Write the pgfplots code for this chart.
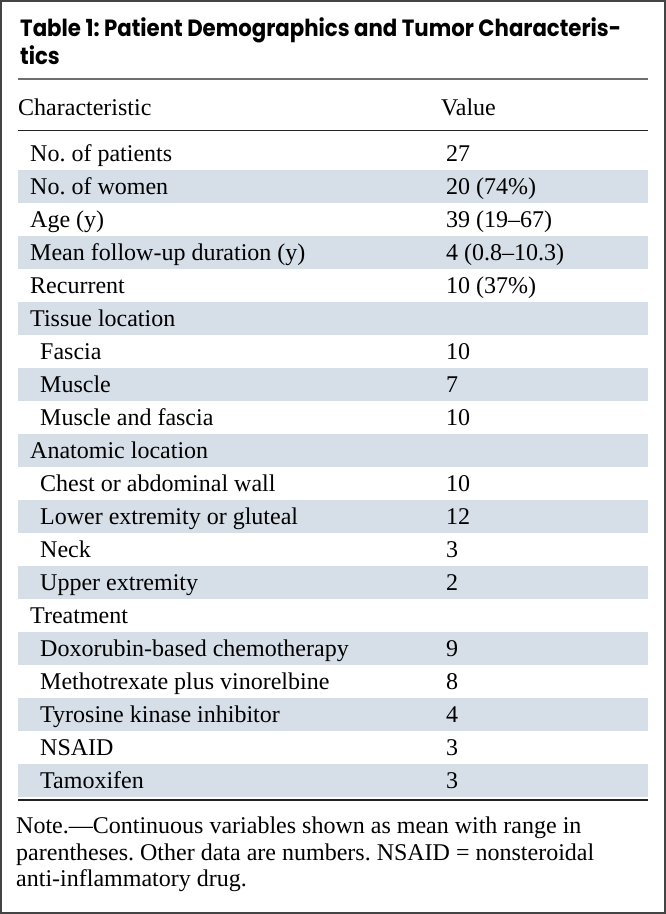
\documentclass[border=0pt]{standalone}
\usepackage{pgfplots}
\pgfplotsset{compat=1.18}
\usepackage{fontspec}
\setmainfont{Liberation Serif}
\newfontfamily\titlefont{Poppins}
\frenchspacing
\definecolor{band}{HTML}{D6DEE8}
\definecolor{rulegray}{HTML}{6E6E6E}
\definecolor{ruledark}{HTML}{222222}
\definecolor{border}{HTML}{444444}
\newcommand{\bodyfont}{\frenchspacing\fontsize{24}{28}\selectfont}
\newcommand{\ttlfont}{\titlefont\bfseries\fontsize{23.5}{27}\selectfont}
% row i: band from 137+33(i-1) to 137+33i, baseline at 127.5+33i
\newcommand{\bandrow}[1]{\fill[band] (axis cs:18,{137+33*(#1-1)}) rectangle (axis cs:648,{137+33*#1});}
\newcommand{\trow}[4]{%
  \node[anchor=base west,inner sep=0pt,font=\bodyfont] at (axis cs:#2,{128+33*#1}) {#3};
  \node[anchor=base west,inner sep=0pt,font=\bodyfont] at (axis cs:446,{128+33*#1}) {#4};}
\begin{document}
\begin{tikzpicture}
\begin{axis}[width=666pt,height=914pt,scale only axis,
  xmin=0,xmax=666,ymin=0,ymax=914,y dir=reverse,hide axis,clip=false]
\fill[white] (axis cs:0,0) rectangle (axis cs:666,914);
% shaded rows
\bandrow{2}\bandrow{4}\bandrow{6}\bandrow{8}\bandrow{10}\bandrow{12}\bandrow{14}\bandrow{16}\bandrow{18}\bandrow{20}
% title
\node[anchor=base west,inner sep=0pt,font=\ttlfont,xscale=0.905] at (axis cs:20,36) {Table 1: Patient Demographics and Tumor Characteris-};
\node[anchor=base west,inner sep=0pt,font=\ttlfont,xscale=0.905] at (axis cs:20,64) {tics};
\draw[rulegray,line width=2pt] (axis cs:18,79) -- (axis cs:648,79);
% header
\node[anchor=base west,inner sep=0pt,font=\bodyfont] at (axis cs:18,115) {Characteristic};
\node[anchor=base west,inner sep=0pt,font=\bodyfont] at (axis cs:441,115) {Value};
\draw[ruledark,line width=1.8pt] (axis cs:18,130.5) -- (axis cs:648,130.5);
% rows
\trow{1}{30}{No. of patients}{27}
\trow{2}{30}{No. of women}{20 (74\%)}
\trow{3}{30}{Age (y)}{39 (19--67)}
\trow{4}{30}{Mean follow-up duration (y)}{4 (0.8--10.3)}
\trow{5}{30}{Recurrent}{10 (37\%)}
\trow{6}{30}{Tissue location}{}
\trow{7}{40}{Fascia}{10}
\trow{8}{40}{Muscle}{7}
\trow{9}{40}{Muscle and fascia}{10}
\trow{10}{30}{Anatomic location}{}
\trow{11}{40}{Chest or abdominal wall}{10}
\trow{12}{40}{Lower extremity or gluteal}{12}
\trow{13}{40}{Neck}{3}
\trow{14}{40}{Upper extremity}{2}
\trow{15}{30}{Treatment}{}
\trow{16}{40}{Doxorubin-based chemotherapy}{9}
\trow{17}{40}{Methotrexate plus vinorelbine}{8}
\trow{18}{40}{Tyrosine kinase inhibitor}{4}
\trow{19}{40}{NSAID}{3}
\trow{20}{40}{Tamoxifen}{3}
\draw[ruledark,line width=1.8pt] (axis cs:18,800) -- (axis cs:648,800);
% note
\node[anchor=base west,inner sep=0pt,font=\bodyfont] at (axis cs:16,833) {Note.---Continuous variables shown as mean with range in};
\node[anchor=base west,inner sep=0pt,font=\bodyfont] at (axis cs:16,860) {parentheses. Other data are numbers. NSAID = nonsteroidal};
\node[anchor=base west,inner sep=0pt,font=\bodyfont] at (axis cs:16,886) {anti-inflammatory drug.};
% border
\draw[border,line width=2pt] (axis cs:1,1) rectangle (axis cs:665,913);
\end{axis}
\end{tikzpicture}
\end{document}
